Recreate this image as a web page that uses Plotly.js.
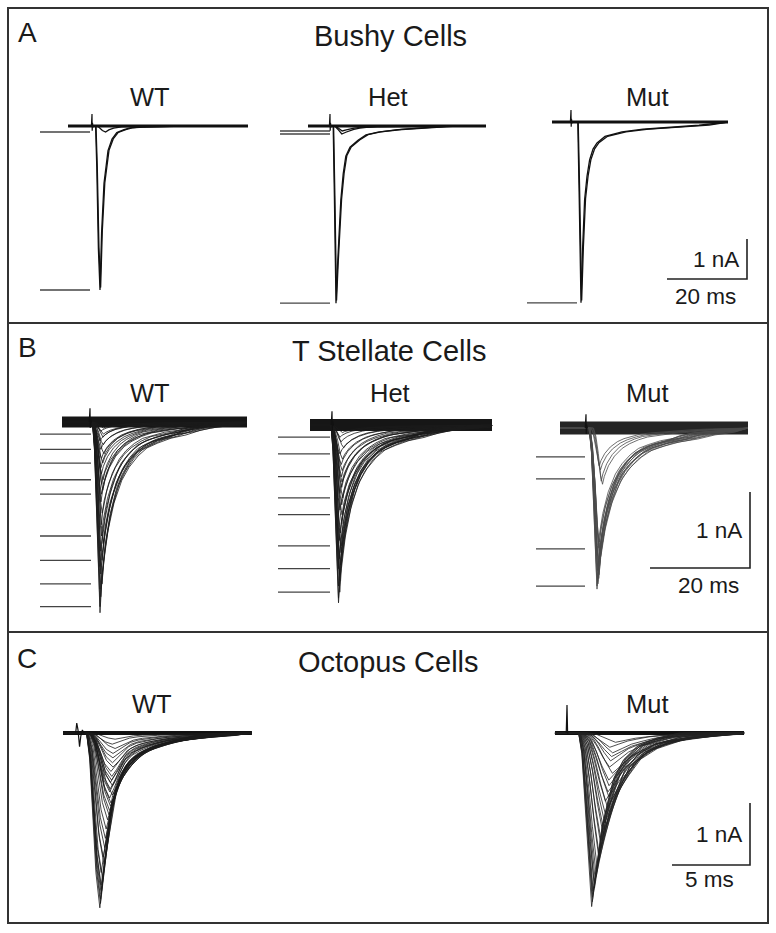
<!DOCTYPE html>
<html><head><meta charset="utf-8">
<script src="https://cdn.plot.ly/plotly-3.0.1.min.js"></script>
<style>html,body{margin:0;padding:0;background:#fff}#chart{width:776px;height:933px}</style>
</head><body><div id="chart"></div>
<script>
// ================= DATA =================
// Titles / labels
const panelLetters = ['A', 'B', 'C'];
const panelTitles = ['Bushy Cells', 'T Stellate Cells', 'Octopus Cells'];
const genotypeLabels = [['WT', 'Het', 'Mut'], ['WT', 'Het', 'Mut'], ['WT', 'Mut']];
const scaleBarMs = [20, 20, 5];
const scaleBarNA = [1, 1, 1];

// ---- Panel A: bushy cells (time ms after stimulus, normalised current) ----
const bushyWT_shapeT = [0.9, 1.2, 1.6, 2.0, 2.4, 3.0, 4.0, 5.0, 6.2, 8.0, 9.5, 12, 16, 22];
const bushyWT_shapeV = [0, 0.25, 0.75, 1, 0.65, 0.35, 0.15, 0.08, 0.04, 0.022, 0.012, 0.007, 0.003, 0];
const bushyWT_amps = [4.1, 4.04, 0.15];
const bushyWT_delays = [0, 0.1, 0.3];
const bushyWT_widths = [1, 1.05, 2];
const bushyWT_markers = [0.15, 4.1];
const bushyWT_span = [-6, 39];

const bushyHet_shapeT = [0.8, 1.1, 1.5, 1.9, 2.3, 2.7, 3.3, 3.95, 5.0, 7, 9, 12, 17, 23, 30];
const bushyHet_shapeV = [0, 0.4, 1, 0.78, 0.58, 0.42, 0.27, 0.17, 0.12, 0.08, 0.05, 0.034, 0.02, 0.011, 0];
const bushyHet_amps = [4.43, 4.36, 0.2, 0.125];
const bushyHet_delays = [0, 0.1, 0.4, 0.5];
const bushyHet_widths = [1, 1.05, 2.5, 2.5];
const bushyHet_markers = [0.125, 0.2, 4.43];
const bushyHet_span = [-5.5, 39];

const bushyMut_shapeT = [1.7, 2.0, 2.5, 2.9, 3.4, 4.0, 4.65, 5.5, 6.5, 8.5, 12.75, 18, 25, 32, 39.25];
const bushyMut_shapeV = [0, 0.35, 1, 0.7, 0.43, 0.3, 0.21, 0.15, 0.116, 0.08, 0.055, 0.04, 0.03, 0.018, 0.01];
const bushyMut_amps = [4.52, 4.46];
const bushyMut_delays = [0, 0.1];
const bushyMut_widths = [1, 1.08];
const bushyMut_markers = [4.52];
const bushyMut_span = [-4.75, 39.25];

const bushy_artT = [-0.15, 0, 0.05, 0.12, 0.25, 0.4];
const bushy_artV = [0, 0.3, -0.12, 0.08, -0.03, 0];

// ---- Panel B: T stellate cells ----
const stellate_shapeT = [0.5, 0.9, 1.3, 1.7, 2.0, 2.3, 3.0, 4.0, 5.3, 6.5, 8.0, 9.5, 11.3, 13.5, 16, 18.5, 21.3, 25, 28, 31];
const stellate_shapeV = [0, 0.15, 0.45, 0.85, 1, 0.86, 0.67, 0.5, 0.36, 0.28, 0.21, 0.16, 0.13, 0.1, 0.08, 0.05, 0.03, 0.02, 0.01, 0];

const stellateWT_amps = [0.08, 0.12, 0.16, 0.2, 0.25, 0.3, 0.36, 0.42, 0.48, 0.54, 0.6, 0.68, 0.76, 0.82, 0.9, 0.95, 1.05, 1.2, 1.35, 1.5, 1.6, 1.7, 1.82, 1.9, 2.0, 2.13, 2.2, 2.3, 2.43, 2.51];
const stellateWT_delays = [0.2, 0, 0.1, 0.3, 0, 0.2, 0, 0.2, 0, 0.1, 0.2, 0, 0, 0.2, 0.1, 0, 0.2, 0, 0.1, 0, 0.2, 0, 0.1, 0, 0, 0.1, 0, 0, 0, 0];
const stellateWT_widths = [1.3, 1.1, 1.4, 1.2, 1.0, 1.3, 1.1, 1.4, 1.2, 1.3, 1.0, 1.2, 1.4, 1.1, 1.3, 1.2, 1.0, 1.3, 1.1, 1.2, 1.3, 1.1, 1.2, 1.0, 1.1, 1.2, 1.0, 1.1, 1.0, 1.0];
const stellateWT_markers = [0.16, 0.36, 0.54, 0.76, 0.95, 1.5, 1.82, 2.13, 2.43];
const stellateWT_span = [-5.6, 31.4];

const stellateHet_amps = [0.1, 0.16, 0.22, 0.3, 0.38, 0.45, 0.52, 0.6, 0.68, 0.75, 0.82, 0.9, 0.96, 1.05, 1.12, 1.18, 1.3, 1.42, 1.52, 1.59, 1.68, 1.76, 1.84, 1.89, 1.97, 2.05, 2.12, 2.2, 2.28, 2.34];
const stellateHet_delays = [-0.5, -0.7, -0.6, -0.4, -0.7, -0.5, -0.6, -0.7, -0.4, -0.6, -0.5, -0.7, -0.6, -0.5, -0.7, -0.6, -0.5, -0.6, -0.7, -0.6, -0.5, -0.7, -0.6, -0.7, -0.6, -0.7, -0.7, -0.6, -0.7, -0.7];
const stellateHet_widths = [1.4, 1.2, 1.3, 1.5, 1.2, 1.4, 1.3, 1.5, 1.2, 1.4, 1.3, 1.2, 1.5, 1.3, 1.2, 1.4, 1.3, 1.2, 1.1, 1.3, 1.2, 1.1, 1.2, 1.0, 1.1, 1.2, 1.0, 1.1, 1.0, 1.0];
const stellateHet_markers = [0.16, 0.38, 0.68, 0.96, 1.18, 1.59, 1.89, 2.2];
const stellateHet_span = [-4.4, 32];

const stellateMut_amps = [0.5, 0.55, 0.7, 0.74, 1.5, 1.58, 1.62, 1.68, 1.72, 1.78, 1.82, 1.88, 1.93, 1.98, 2.02, 2.05, 2.08, 2.12];
const stellateMut_delays = [0.5, 0.6, 0.9, 1.0, 0.2, 0.3, 0.2, 0.1, 0.3, 0.2, 0.1, 0.2, 0.3, 0.1, 0.2, 0.1, 0.2, 0.2];
const stellateMut_widths = [1.1, 1.2, 1.1, 1.2, 1.3, 1.2, 1.4, 1.1, 1.3, 1.2, 1.4, 1.1, 1.2, 1.3, 1.1, 1.2, 1.0, 1.0];
const stellateMut_markers = [0.38, 0.67, 1.59, 2.08];
const stellateMut_span = [-5.2, 32.4];

const stellate_artT = [-0.15, 0, 0.05, 0.12, 0.25, 0.4];
const stellate_artV = [0, 0.18, -0.08, 0.04, 0, 0];

// ---- Panel C: octopus cells ----
const octoWT_shapeT = [0.55, 0.75, 0.95, 1.15, 1.4, 1.6, 1.85, 2.05, 2.37, 2.7, 3.1, 3.6, 4.2, 5.26, 6.3, 7.8, 9.5];
const octoWT_shapeV = [0, 0.15, 0.45, 0.8, 1, 0.84, 0.61, 0.46, 0.34, 0.27, 0.21, 0.15, 0.11, 0.07, 0.04, 0.01, 0];
const octoWT_amps = [2.82, 2.75, 2.68, 2.6, 2.52, 2.45, 2.35, 2.25, 2.12, 2.0, 1.85, 1.7, 1.55, 1.4, 1.32, 1.25, 1.18, 1.13, 1.05, 1.0, 0.95, 0.9, 0.85, 0.8, 0.76, 0.7, 0.62, 0.55, 0.48, 0.4, 0.33, 0.25, 0.18, 0.1];
const octoWT_delays = [0, 0, 0.05, 0, 0.05, 0, 0.05, 0, 0.1, 0.05, 0.1, 0.1, 0.15, 0.2, 0.25, 0.2, 0.3, 0.25, 0.2, 0.3, 0.25, 0.2, 0.3, 0.25, 0.2, 0.3, 0.2, 0.25, 0.3, 0.2, 0.25, 0.3, 0.2, 0.3];
const octoWT_widths = [1, 1.05, 1, 1.1, 1.05, 1.1, 1.15, 1.1, 1.2, 1.2, 1.25, 1.3, 1.3, 1.35, 1.4, 1.5, 1.45, 1.55, 1.5, 1.6, 1.45, 1.55, 1.6, 1.5, 1.65, 1.55, 1.6, 1.7, 1.6, 1.75, 1.7, 1.8, 1.7, 1.8];
const octoWT_span = [-0.96, 11.15];
const octoWT_artT = [-0.15, -0.08, 0, 0.1, 0.18, 0.28, 0.38];
const octoWT_artV = [0, 0.16, 0.05, -0.22, -0.05, 0.05, 0];

const octoMut_shapeT = [0.75, 0.95, 1.15, 1.35, 1.58, 1.9, 2.22, 2.54, 2.97, 3.6, 4.47, 5.75, 7.2];
const octoMut_shapeV = [0, 0.12, 0.38, 0.7, 1, 0.78, 0.56, 0.43, 0.27, 0.16, 0.08, 0.03, 0];
const octoMut_amps = [2.8, 2.72, 2.65, 2.6, 2.55, 2.5, 2.45, 2.37, 2.3, 2.16, 2.05, 1.94, 1.85, 1.73, 1.65, 1.56, 1.45, 1.3, 1.2, 1.1, 1.03, 0.95, 0.85, 0.76, 0.65, 0.55, 0.45, 0.38, 0.32, 0.23, 0.15];
const octoMut_delays = [0, 0, 0.05, 0, 0.05, 0.1, 0, 0.1, 0.05, 0.1, 0.15, 0.1, 0.2, 0.15, 0.25, 0.2, 0.3, 0.25, 0.35, 0.3, 0.4, 0.3, 0.45, 0.35, 0.5, 0.4, 0.55, 0.45, 0.6, 0.5, 0.7];
const octoMut_widths = [1, 1.05, 1, 1.1, 1.05, 1.1, 1.2, 1.15, 1.3, 1.3, 1.4, 1.45, 1.5, 1.55, 1.6, 1.7, 1.65, 1.75, 1.8, 1.7, 1.85, 1.9, 1.8, 1.9, 2.0, 1.9, 1.8, 2.0, 1.9, 1.8, 2.0];
const octoMut_span = [-0.77, 11.35];
const octoMut_artT = [-0.05, 0, 0.04, 0.1];
const octoMut_artV = [0, 0.45, 0, 0];

// ================= LAYOUT / STYLE =================
const W = 776, H = 933;
const cells = [
  {key: 'A_WT', stim: 92, base: 126, ppms: 4, ppna: 40, shapeT: bushyWT_shapeT, shapeV: bushyWT_shapeV, amps: bushyWT_amps, delays: bushyWT_delays, widths: bushyWT_widths, markers: bushyWT_markers, span: bushyWT_span, artT: bushy_artT, artV: bushy_artV, markerPx: [40, 90], lw: 1.3, color: '#111', band: 3, bandColor: '#111'},
  {key: 'A_Het', stim: 330, base: 126, ppms: 4, ppna: 40, shapeT: bushyHet_shapeT, shapeV: bushyHet_shapeV, amps: bushyHet_amps, delays: bushyHet_delays, widths: bushyHet_widths, markers: bushyHet_markers, span: bushyHet_span, artT: bushy_artT, artV: bushy_artV, markerPx: [280, 330], lw: 1.3, color: '#111', band: 3, bandColor: '#111'},
  {key: 'A_Mut', stim: 571, base: 122, ppms: 4, ppna: 40, shapeT: bushyMut_shapeT, shapeV: bushyMut_shapeV, amps: bushyMut_amps, delays: bushyMut_delays, widths: bushyMut_widths, markers: bushyMut_markers, span: bushyMut_span, artT: bushy_artT, artV: bushy_artV, markerPx: [527, 577], lw: 1.3, color: '#111', band: 3, bandColor: '#111'},
  {key: 'B_WT', stim: 90, base: 422, ppms: 5, ppna: 76, shapeT: stellate_shapeT, shapeV: stellate_shapeV, amps: stellateWT_amps, delays: stellateWT_delays, widths: stellateWT_widths, markers: stellateWT_markers, span: stellateWT_span, artT: stellate_artT, artV: stellate_artV, markerPx: [40, 91], lw: 0.8, color: '#1a1a1a', band: 11, bandColor: '#161616'},
  {key: 'B_Het', stim: 332, base: 425, ppms: 5, ppna: 76, shapeT: stellate_shapeT, shapeV: stellate_shapeV, amps: stellateHet_amps, delays: stellateHet_delays, widths: stellateHet_widths, markers: stellateHet_markers, span: stellateHet_span, artT: stellate_artT, artV: stellate_artV, markerPx: [278, 330], lw: 0.8, color: '#1a1a1a', band: 12, bandColor: '#161616'},
  {key: 'B_Mut', stim: 586, base: 428, ppms: 5, ppna: 76, shapeT: stellate_shapeT, shapeV: stellate_shapeV, amps: stellateMut_amps, delays: stellateMut_delays, widths: stellateMut_widths, markers: stellateMut_markers, span: stellateMut_span, artT: stellate_artT, artV: stellate_artV, markerPx: [536, 585], lw: 0.8, color: '#4a4a4a', band: 13, bandColor: '#252525'},
  {key: 'C_WT', stim: 78, base: 733, ppms: 15.6, ppna: 62, shapeT: octoWT_shapeT, shapeV: octoWT_shapeV, amps: octoWT_amps, delays: octoWT_delays, widths: octoWT_widths, markers: [], span: octoWT_span, artT: octoWT_artT, artV: octoWT_artV, markerPx: null, lw: 0.8, color: '#1a1a1a', band: 4, bandColor: '#111'},
  {key: 'C_Mut', stim: 567, base: 733, ppms: 15.6, ppna: 62, shapeT: octoMut_shapeT, shapeV: octoMut_shapeV, amps: octoMut_amps, delays: octoMut_delays, widths: octoMut_widths, markers: [], span: octoMut_span, artT: octoMut_artT, artV: octoMut_artV, markerPx: null, lw: 0.8, color: '#222', band: 4, bandColor: '#111'}
];

const FONT = 'Liberation Sans, Arial, Helvetica, sans-serif';
const TXT = '#1a1a1a';
const layout = {
  width: W, height: H, margin: {l: 0, r: 0, t: 0, b: 0},
  paper_bgcolor: '#fff', plot_bgcolor: 'rgba(0,0,0,0)',
  showlegend: false, shapes: [], annotations: []
};
const data = [];

cells.forEach((c, i) => {
  const n = i + 1;
  const xa = 'x' + (n === 1 ? '' : n), ya = 'y' + (n === 1 ? '' : n);
  const L = Math.max(0, c.stim - 85), R = Math.min(W, c.stim + 195);
  const T = Math.max(0, c.base - 45), B = Math.min(H, c.base + 205);
  c.xa = xa; c.ya = ya;
  c.px2t = px => (px - c.stim) / c.ppms;
  c.py2v = py => (c.base - py) / c.ppna;
  const axBase = {visible: false, showgrid: false, zeroline: false, fixedrange: true};
  layout['xaxis' + (n === 1 ? '' : n)] = Object.assign({}, axBase, {domain: [L / W, R / W], range: [c.px2t(L), c.px2t(R)], anchor: ya});
  layout['yaxis' + (n === 1 ? '' : n)] = Object.assign({}, axBase, {domain: [1 - B / H, 1 - T / H], range: [c.py2v(B), c.py2v(T)], anchor: xa});

  // baseline noise band
  data.push({type: 'scatter', mode: 'lines', xaxis: xa, yaxis: ya, hoverinfo: 'skip',
    x: [c.span[0], c.span[1]], y: [0, 0], line: {color: c.bandColor, width: c.band}});

  // peak marker lines
  if (c.markerPx && c.markers.length) {
    const mx = [], my = [];
    c.markers.forEach(a => { mx.push(c.px2t(c.markerPx[0]), c.px2t(c.markerPx[1]), null); my.push(-a, -a, null); });
    data.push({type: 'scatter', mode: 'lines', xaxis: xa, yaxis: ya, hoverinfo: 'skip', x: mx, y: my,
      line: {color: '#444', width: 1.3}});
  }

  // EPSC traces
  const tx = [], ty = [];
  const t0 = c.shapeT[0];
  c.amps.forEach((a, k) => {
    const d = c.delays[k] || 0, w = c.widths[k] || 1;
    tx.push(c.span[0]); ty.push(0);
    for (let j = 0; j < c.shapeT.length; j++) {
      const t = d + t0 + (c.shapeT[j] - t0) * w;
      if (t >= c.span[1]) break;
      tx.push(t); ty.push(-a * c.shapeV[j]);
    }
    tx.push(c.span[1]); ty.push(0);
    tx.push(null); ty.push(null);
  });
  data.push({type: 'scatter', mode: 'lines', xaxis: xa, yaxis: ya, hoverinfo: 'skip', x: tx, y: ty,
    line: {color: c.color, width: c.lw}});

  // stimulus artefact
  data.push({type: 'scatter', mode: 'lines', xaxis: xa, yaxis: ya, hoverinfo: 'skip', x: c.artT, y: c.artV,
    line: {color: '#111', width: 1.2}});
});

// Panel frames
const lineCol = '#333';
layout.shapes.push({type: 'rect', xref: 'paper', yref: 'paper', x0: 8 / W, x1: 768 / W, y0: 1 - 923 / H, y1: 1 - 8 / H, line: {color: lineCol, width: 2}});
[323, 632].forEach(py => layout.shapes.push({type: 'line', xref: 'paper', yref: 'paper', x0: 8 / W, x1: 768 / W, y0: 1 - py / H, y1: 1 - py / H, line: {color: lineCol, width: 2}}));

// Scale bars (drawn in data units of the right-most cell of each panel)
const scaleCells = [cells[2], cells[5], cells[7]];
const scaleCorner = [[747, 279], [750, 568], [750, 865]];
scaleCells.forEach((c, p) => {
  const tx1 = c.px2t(scaleCorner[p][0]), vy0 = c.py2v(scaleCorner[p][1]);
  layout.shapes.push({type: 'path', xref: c.xa, yref: c.ya,
    path: `M ${tx1 - scaleBarMs[p]} ${vy0} L ${tx1} ${vy0} L ${tx1} ${vy0 + scaleBarNA[p]}`,
    line: {color: '#222', width: 1.6}});
  layout.annotations.push({xref: c.xa, yref: c.ya, x: tx1 - 6 / c.ppms, y: vy0 + scaleBarNA[p] / 2, text: scaleBarNA[p] + ' nA',
    showarrow: false, xanchor: 'right', yanchor: 'middle', font: {family: FONT, size: 22.5, color: TXT}});
  layout.annotations.push({xref: c.xa, yref: c.ya, x: tx1 - (p === 2 ? 41 : 42) / c.ppms, y: vy0 - (p === 2 ? 14 : 17) / c.ppna, text: scaleBarMs[p] + ' ms',
    showarrow: false, xanchor: 'center', yanchor: 'middle', font: {family: FONT, size: 22.5, color: TXT}});
});

// Text
const letterPos = [[27, 32], [27, 347], [27, 658]];
const titlePos = [[390, 36], [389, 351], [388, 662]];
const genoPos = [[[150, 97], [388, 97], [647, 97]], [[150, 393], [390, 393], [647, 393]], [[152, 704], [647, 704]]];
panelLetters.forEach((L, p) => {
  layout.annotations.push({xref: 'paper', yref: 'paper', x: letterPos[p][0] / W, y: 1 - letterPos[p][1] / H, text: L, showarrow: false,
    xanchor: 'center', yanchor: 'middle', font: {family: FONT, size: 28, color: TXT}});
  layout.annotations.push({xref: 'paper', yref: 'paper', x: titlePos[p][0] / W, y: 1 - titlePos[p][1] / H, text: panelTitles[p], showarrow: false,
    xanchor: 'center', yanchor: 'middle', font: {family: FONT, size: 29, color: TXT}});
  genotypeLabels[p].forEach((g, k) => {
    layout.annotations.push({xref: 'paper', yref: 'paper', x: genoPos[p][k][0] / W, y: 1 - genoPos[p][k][1] / H, text: g, showarrow: false,
      xanchor: 'center', yanchor: 'middle', font: {family: FONT, size: 25.5, color: TXT}});
  });
});

Plotly.newPlot('chart', data, layout, {staticPlot: true, displayModeBar: false});
</script></body></html>
